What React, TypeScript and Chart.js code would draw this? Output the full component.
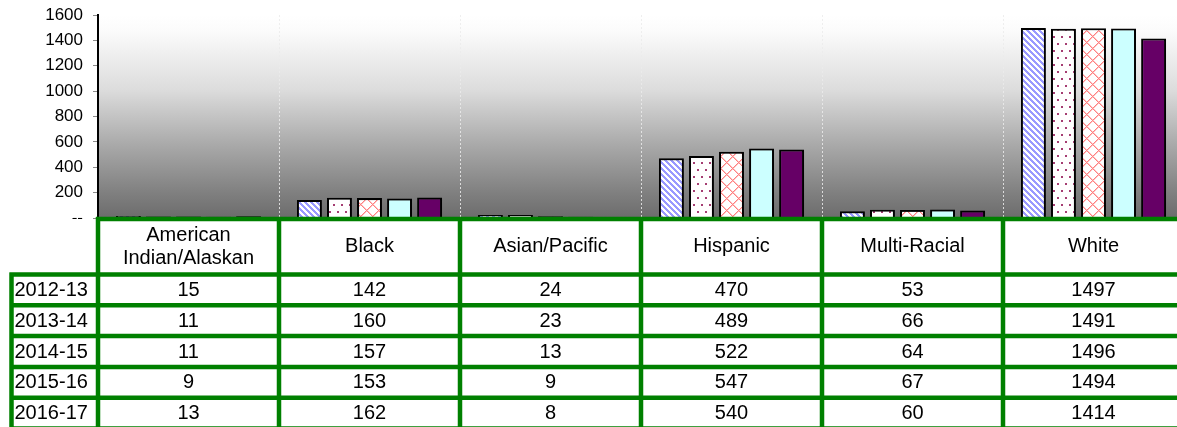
import React, { useEffect, useRef } from 'react';
import { Chart, registerables } from 'chart.js';

Chart.register(...registerables);

const categories: string[][] = [
  ['American', 'Indian/Alaskan'],
  ['Black'],
  ['Asian/Pacific'],
  ['Hispanic'],
  ['Multi-Racial'],
  ['White'],
];
const years = ['2012-13', '2013-14', '2014-15', '2015-16', '2016-17'];
const v2012 = [15, 142, 24, 470, 53, 1497];
const v2013 = [11, 160, 23, 489, 66, 1491];
const v2014 = [11, 157, 13, 522, 64, 1496];
const v2015 = [9, 153, 9, 547, 67, 1494];
const v2016 = [13, 162, 8, 540, 60, 1414];
const seriesValues = [v2012, v2013, v2014, v2015, v2016];
const yMin = 0;
const yMax = 1600;
const yStep = 200;

const FONT = "'Liberation Sans', Arial, sans-serif";
const GREEN = '#008000';

function makePattern(kind: string): CanvasPattern | string {
  const c = document.createElement('canvas');
  const ctx = c.getContext('2d')!;
  if (kind === 'stripes') {
    c.width = 6; c.height = 6;
    ctx.fillStyle = '#ffffff';
    ctx.fillRect(0, 0, 6, 6);
    ctx.fillStyle = '#9999ff';
    for (let y = 0; y < 6; y++) {
      for (let x = 0; x < 6; x++) {
        const d = ((x - y) % 6 + 6) % 6;
        if (d < 3) ctx.fillRect(x, y, 1, 1);
      }
    }
  } else if (kind === 'dots') {
    c.width = 8; c.height = 14;
    ctx.fillStyle = '#ffffff';
    ctx.fillRect(0, 0, 8, 14);
    ctx.fillStyle = '#a53d72';
    ctx.fillRect(1, 1, 2, 2);
    ctx.fillRect(5, 8, 2, 2);
  } else if (kind === 'lattice') {
    c.width = 12; c.height = 12;
    ctx.fillStyle = '#ffffff';
    ctx.fillRect(0, 0, 12, 12);
    for (let y = 0; y < 12; y++) {
      for (let x = 0; x < 12; x++) {
        const a = ((x - y) % 12 + 12) % 12;
        const b = (x + y) % 12;
        if (a === 0 || b === 0) {
          ctx.fillStyle = '#ff8080';
          ctx.fillRect(x, y, 1, 1);
        } else if (a === 1 || b === 1) {
          ctx.fillStyle = '#ffc4c4';
          ctx.fillRect(x, y, 1, 1);
        }
      }
    }
  }
  const p = ctx.createPattern(c, 'repeat');
  return p || '#ffffff';
}

const bgPlugin = {
  id: 'bgPlugin',
  beforeDraw(chart: any) {
    const { ctx, chartArea, width, height } = chart;
    ctx.save();
    ctx.fillStyle = '#ffffff';
    ctx.fillRect(0, 0, width, height);
    const g = ctx.createLinearGradient(0, chartArea.top, 0, chartArea.bottom);
    g.addColorStop(0, '#ffffff');
    g.addColorStop(0.08, '#fbfbfb');
    g.addColorStop(0.37, '#dcdcdc');
    g.addColorStop(0.63, '#ababab');
    g.addColorStop(0.88, '#7f7f7f');
    g.addColorStop(1, '#6c6c6c');
    ctx.fillStyle = g;
    ctx.fillRect(chartArea.left, chartArea.top, chartArea.right - chartArea.left, chartArea.bottom - chartArea.top);
    const n = categories.length;
    const cw = (chartArea.right - chartArea.left) / n;
    ctx.strokeStyle = 'rgba(235,235,235,0.85)';
    ctx.lineWidth = 1;
    ctx.setLineDash([2, 2]);
    for (let i = 1; i < n; i++) {
      const x = Math.round(chartArea.left + i * cw) + 0.5;
      ctx.beginPath();
      ctx.moveTo(x, chartArea.top);
      ctx.lineTo(x, chartArea.bottom);
      ctx.stroke();
    }
    ctx.restore();
  },
  beforeDatasetsDraw(chart: any) {
    const ctx = chart.ctx;
    ctx.save();
    ctx.shadowColor = 'rgba(0,0,0,0.35)';
    ctx.shadowOffsetX = 2;
    ctx.shadowOffsetY = 1;
    ctx.shadowBlur = 1;
  },
  afterDatasetsDraw(chart: any) {
    chart.ctx.restore();
  },
};

const tablePlugin = {
  id: 'tablePlugin',
  afterDraw(chart: any) {
    const { ctx, chartArea } = chart;
    const n = categories.length;
    const cw = (chartArea.right - chartArea.left) / n;
    const left = chartArea.left;
    const headTop = chartArea.bottom + 1;
    const headBottom = 274.5;
    const rowH = 30.8;
    const labelLeft = 11.5;
    const bottom = headBottom + rowH * years.length;
    ctx.save();
    ctx.fillStyle = '#ffffff';
    ctx.fillRect(0, headTop, chart.width, chart.height - headTop);

    ctx.fillStyle = '#000000';
    ctx.font = `20px ${FONT}`;
    ctx.textBaseline = 'middle';
    ctx.textAlign = 'center';
    const headMid = (headTop + headBottom) / 2;
    categories.forEach((lines, i) => {
      const cx = left + (i + 0.5) * cw;
      const lh = 23;
      lines.forEach((t, k) => {
        const y = headMid + (k - (lines.length - 1) / 2) * lh;
        ctx.fillText(t, cx, y);
      });
    });
    years.forEach((yr, r) => {
      const cy = headBottom + (r + 0.5) * rowH + 0.5;
      ctx.textAlign = 'left';
      ctx.fillText(yr, labelLeft + 3, cy);
      ctx.textAlign = 'center';
      seriesValues[r].forEach((v, i) => {
        ctx.fillText(String(v), left + (i + 0.5) * cw, cy);
      });
    });

    ctx.strokeStyle = GREEN;
    ctx.lineWidth = 4.5;
    ctx.lineCap = 'butt';
    ctx.beginPath();
    ctx.moveTo(left - 2, headTop);
    ctx.lineTo(chart.width, headTop);
    for (let r = 0; r <= years.length; r++) {
      const y = headBottom + r * rowH;
      ctx.moveTo(labelLeft - 2, y);
      ctx.lineTo(chart.width, y);
    }
    ctx.moveTo(labelLeft, headBottom - 2);
    ctx.lineTo(labelLeft, bottom + 2);
    for (let i = 0; i <= n; i++) {
      const x = left + i * cw;
      ctx.moveTo(x, headTop - 2);
      ctx.lineTo(x, bottom + 2);
    }
    ctx.stroke();
    ctx.restore();
  },
};

export default function App() {
  const ref = useRef<HTMLCanvasElement | null>(null);

  useEffect(() => {
    document.body.style.margin = '0';
    const canvas = ref.current!;
    const fills = [
      makePattern('stripes'),
      makePattern('dots'),
      makePattern('lattice'),
      '#ccffff',
      '#660066',
    ];
    const chart = new Chart(canvas, {
      type: 'bar',
      data: {
        labels: categories.map((c) => c.join(' ')),
        datasets: seriesValues.map((vals, i) => ({
          label: years[i],
          data: vals,
          backgroundColor: fills[i] as any,
          borderColor: '#000000',
          borderWidth: 2,
          borderSkipped: 'bottom',
          categoryPercentage: 0.83,
          barPercentage: 0.83,
        })),
      },
      options: {
        animation: false,
        responsive: false,
        devicePixelRatio: 1,
        layout: { padding: { left: 0, right: 0, top: 15, bottom: 209 } },
        plugins: {
          legend: { display: false },
          tooltip: { enabled: false },
        },
        scales: {
          x: { display: false },
          y: {
            min: yMin,
            max: yMax,
            afterFit: (scale: any) => {
              scale.width = 98;
              scale.paddingTop = 0;
              scale.paddingBottom = 0;
            },
            ticks: {
              stepSize: yStep,
              color: '#000000',
              padding: 10,
              font: { family: FONT, size: 17 },
              callback: (v: any) => (Number(v) === 0 ? '--' : String(v)),
            },
            grid: {
              drawOnChartArea: false,
              drawTicks: true,
              tickLength: 5,
              color: '#8a8a8a',
            },
            border: { display: true, color: '#000000', width: 2 },
          },
        },
      },
      plugins: [bgPlugin, tablePlugin],
    });
    return () => chart.destroy();
  }, []);

  return (
    <div style={{ width: 1177, height: 427, overflow: 'hidden', background: '#fff' }}>
      <canvas ref={ref} width={1184} height={427} style={{ display: 'block', width: 1184, height: 427 }} />
    </div>
  );
}
